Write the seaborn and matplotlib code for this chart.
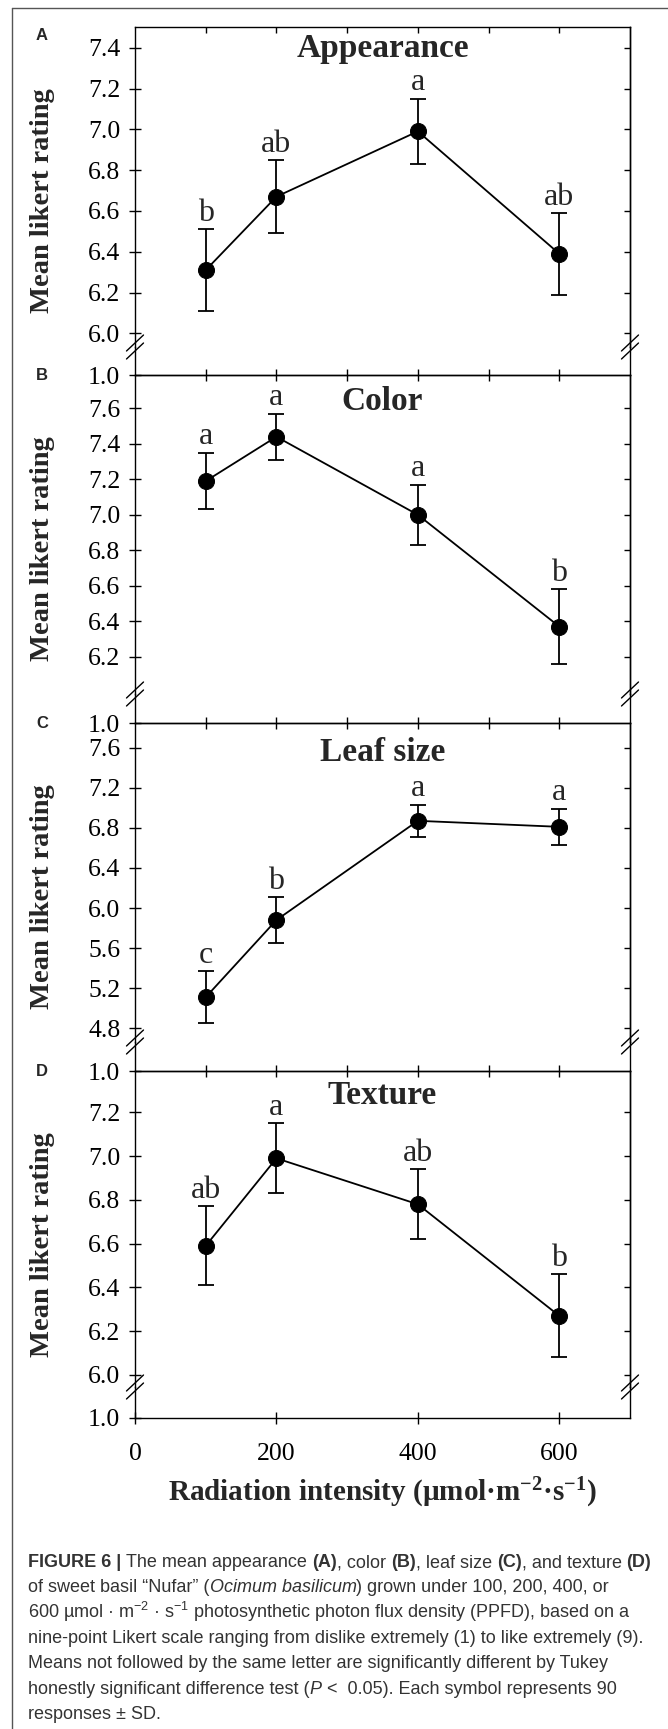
import matplotlib
matplotlib.use('Agg')
import matplotlib.pyplot as plt
import seaborn as sns
from matplotlib.lines import Line2D

# data (means +/- SD)
radiation = [100, 200, 400, 600]

appearance_mean = [6.31, 6.67, 6.99, 6.39]
appearance_sd = [0.20, 0.18, 0.16, 0.20]
appearance_letters = ['b', 'ab', 'a', 'ab']
appearance_ticks = [6.0, 6.2, 6.4, 6.6, 6.8, 7.0, 7.2, 7.4]

color_mean = [7.19, 7.44, 7.00, 6.37]
color_sd = [0.16, 0.13, 0.17, 0.21]
color_letters = ['a', 'a', 'a', 'b']
color_ticks = [6.2, 6.4, 6.6, 6.8, 7.0, 7.2, 7.4, 7.6]

leaf_mean = [5.11, 5.88, 6.87, 6.81]
leaf_sd = [0.26, 0.23, 0.16, 0.18]
leaf_letters = ['c', 'b', 'a', 'a']
leaf_ticks = [4.8, 5.2, 5.6, 6.0, 6.4, 6.8, 7.2, 7.6]

texture_mean = [6.59, 6.99, 6.78, 6.27]
texture_sd = [0.18, 0.16, 0.16, 0.19]
texture_letters = ['ab', 'a', 'ab', 'b']
texture_ticks = [6.0, 6.2, 6.4, 6.6, 6.8, 7.0, 7.2]

titles = ['Appearance', 'Color', 'Leaf size', 'Texture']
tags = ['A', 'B', 'C', 'D']
x_top_ticks = [100, 200, 300, 400, 500, 600]
x_bottom_ticks = [0, 200, 400, 600]

panels = [
    (appearance_mean, appearance_sd, appearance_letters, appearance_ticks),
    (color_mean, color_sd, color_letters, color_ticks),
    (leaf_mean, leaf_sd, leaf_letters, leaf_ticks),
    (texture_mean, texture_sd, texture_letters, texture_ticks),
]

# layout in figure pixels: top, break, bottom(1.0 line), main ylim, title y
layout = [
    (26.7, 347, 375, (5.933, 7.503), 48),
    (375, 694, 723, (5.990, 7.788), 402),
    (723, 1042, 1071, (4.663, 7.846), 752),
    (1071, 1387, 1418, (5.945, 7.389), 1095),
]

W, H = 668, 1729
L, R = 135, 630

sns.set_theme(style='ticks')
plt.rcParams['font.family'] = ['Liberation Serif', 'DejaVu Serif']
plt.rcParams['mathtext.default'] = 'regular'
plt.rcParams['axes.linewidth'] = 1.0
plt.rcParams['axes.edgecolor'] = 'black'
plt.rcParams['xtick.color'] = 'black'
plt.rcParams['ytick.color'] = 'black'

fig = plt.figure(figsize=(W / 100, H / 100), dpi=100)


def rect(top, bottom):
    return [L / W, 1 - bottom / H, (R - L) / W, (bottom - top) / H]


def fy(y):
    return 1 - y / H


def break_marks(y):
    for x in (L, R):
        for yc in (y - 4, y + 4):
            fig.add_artist(Line2D([(x - 8.5) / W, (x + 8.5) / W], [fy(yc + 8), fy(yc - 8)],
                                  transform=fig.transFigure, color='black', lw=1.0))


for i, ((mean, sd, letters, ticks), (top, brk, bot, ylim, ty)) in enumerate(zip(panels, layout)):
    ax = fig.add_axes(rect(top, brk))
    ax.errorbar(radiation, mean, yerr=sd, fmt='none', ecolor='black', elinewidth=1.3,
                capsize=6, capthick=1.3, zorder=2)
    sns.lineplot(x=radiation, y=mean, ax=ax, color='black', marker='o', markersize=11.5,
                 markeredgecolor='black', linewidth=1.3, zorder=3)
    for x, m, s, lab in zip(radiation, mean, sd, letters):
        ax.annotate(lab, (x, m + s), xytext=(0, 6), textcoords='offset points',
                    ha='center', va='baseline', fontsize=23)
    ax.set_xlim(0, 700)
    ax.set_ylim(*ylim)
    ax.set_yticks(ticks)
    ax.set_yticklabels([f'{t:.1f}' for t in ticks])
    ax.set_xticks(x_top_ticks)
    ax.set_xlabel('')
    ax.set_ylabel('')
    ax.tick_params(axis='x', direction='in', bottom=False, top=True, labelbottom=False,
                   length=4, width=1.0)
    ax.tick_params(axis='y', direction='inout', left=True, right=False, length=9, width=1.0,
                   labelsize=18.5, pad=6)
    ax.spines['bottom'].set_visible(False)
    sec = ax.secondary_yaxis('right')
    sec.set_yticks(ticks)
    sec.tick_params(direction='in', length=4, width=1.0, labelright=False)
    ax.patch.set_alpha(0)

    stub = fig.add_axes(rect(brk, bot))
    stub.set_xlim(0, 700)
    stub.set_ylim(1.0, 1.2)
    stub.set_yticks([1.0])
    stub.set_yticklabels(['1.0'])
    stub.spines['top'].set_visible(False)
    stub.tick_params(axis='y', direction='inout', length=9, width=1.0, labelsize=18.5, pad=6)
    if i == 3:
        stub.set_xticks(x_bottom_ticks)
        stub.set_xticklabels([str(v) for v in x_bottom_ticks])
        stub.tick_params(axis='x', direction='inout', length=8, width=1.0, labelsize=18.5, pad=14)
    else:
        stub.set_xticks(x_top_ticks)
        stub.tick_params(axis='x', direction='in', length=4, width=1.0, labelbottom=False)
    stub.patch.set_alpha(0)

    break_marks(brk)

    fig.text((L + R) / 2 / W, fy(ty), titles[i], ha='center', va='center',
             fontsize=24, weight='bold')
    fig.text(43 / W, fy((top + bot) / 2), 'Mean likert rating', rotation=90,
             ha='center', va='center', fontsize=20.5, weight='bold')
    tag_y = 36 if i == 0 else top
    fig.text(42 / W, fy(tag_y), tags[i], ha='center', va='center', fontsize=12,
             weight='bold', family=['Liberation Sans', 'DejaVu Sans'])

fig.text((L + R) / 2 / W, fy(1493), 'Radiation intensity (µmol·m$^{-2}$·s$^{-1}$)',
         ha='center', va='center', fontsize=21, weight='bold')

# frame around the figure panel
fig.add_artist(Line2D([12 / W, 12 / W], [0, fy(8.3)], transform=fig.transFigure,
                      color='#555555', lw=1.0))
fig.add_artist(Line2D([12 / W, 1], [fy(8.3), fy(8.3)], transform=fig.transFigure,
                      color='#555555', lw=1.0))

# caption
cap_family = ['Liberation Sans', 'DejaVu Sans']
cap_color = '#333333'
cap_lines = [
    [('FIGURE 6 | ', 'bold', 'normal'), ('The mean appearance ', 'normal', 'normal'),
     ('(A)', 'bold', 'normal'), (', color ', 'normal', 'normal'), ('(B)', 'bold', 'normal'),
     (', leaf size ', 'normal', 'normal'), ('(C)', 'bold', 'normal'),
     (', and texture ', 'normal', 'normal'), ('(D)', 'bold', 'normal')],
    [('of sweet basil “Nufar” (', 'normal', 'normal'), ('Ocimum basilicum', 'normal', 'italic'),
     (') grown under 100, 200, 400, or', 'normal', 'normal')],
    [('600 µmol · m$^{-2}$ · s$^{-1}$ photosynthetic photon flux density (PPFD), based on a',
      'normal', 'normal')],
    [('nine-point Likert scale ranging from dislike extremely (1) to like extremely (9).',
      'normal', 'normal')],
    [('Means not followed by the same letter are significantly different by Tukey',
      'normal', 'normal')],
    [('honestly significant difference test (', 'normal', 'normal'), ('P', 'normal', 'italic'),
     (' <  0.05). Each symbol represents 90', 'normal', 'normal')],
    [('responses ± SD.', 'normal', 'normal')],
]

renderer = fig.canvas.get_renderer()


def frag_width(s, size, weight, style):
    t = fig.text(0, 0, '|' + s + '|', fontsize=size, weight=weight, style=style, family=cap_family)
    w = t.get_window_extent(renderer).width
    t.remove()
    t = fig.text(0, 0, '||', fontsize=size, weight=weight, style=style, family=cap_family)
    w0 = t.get_window_extent(renderer).width
    t.remove()
    return w - w0


base = 10
w_line1 = sum(frag_width(s, base, wt, st) for s, wt, st in cap_lines[0])
cap_size = base * 624 / w_line1

for k, line in enumerate(cap_lines):
    x = 28
    yb = 1567 + 25.3 * k
    for s, wt, st in line:
        fig.text(x / W, fy(yb), s, fontsize=cap_size, weight=wt, style=st, family=cap_family,
                 color=cap_color, ha='left', va='baseline')
        x += frag_width(s, cap_size, wt, st)

fig.savefig('out.png', dpi=100)
